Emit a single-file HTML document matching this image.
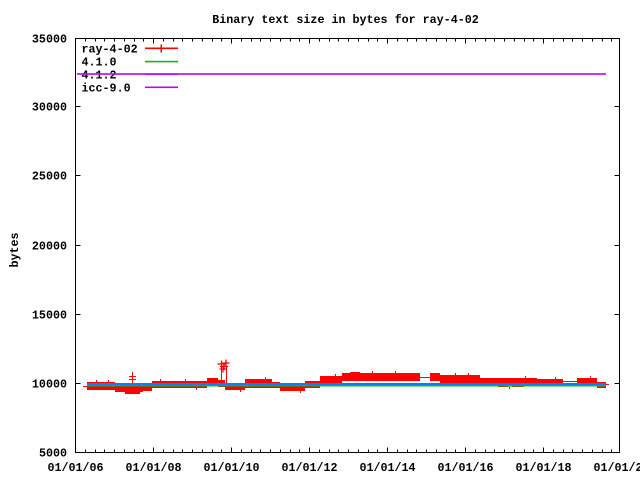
<!DOCTYPE html>
<html>
<head>
<meta charset="utf-8">
<style>
html,body{margin:0;padding:0;background:#fff;}
svg{display:block;}
text{font-family:"Liberation Mono","DejaVu Sans Mono",monospace;font-weight:bold;font-size:11.7px;fill:#000;}
</style>
</head>
<body>
<svg width="640" height="480" viewBox="0 0 640 480" xmlns="http://www.w3.org/2000/svg">
<rect x="0" y="0" width="640" height="480" fill="#fff"/>

<!-- title -->
<text x="345.5" y="23" text-anchor="middle">Binary text size in bytes for ray-4-02</text>

<!-- y label -->
<text transform="translate(18,250) rotate(-90)" text-anchor="middle">bytes</text>

<!-- y tick labels -->
<g text-anchor="end">
<text x="67" y="42.5">35000</text>
<text x="67" y="110.5">30000</text>
<text x="67" y="179.5">25000</text>
<text x="67" y="249.5">20000</text>
<text x="67" y="318.5">15000</text>
<text x="67" y="387.5">10000</text>
<text x="67" y="456.5">5000</text>
</g>

<!-- x tick labels -->
<g text-anchor="middle">
<text x="75.5" y="471">01/01/06</text>
<text x="153.5" y="471">01/01/08</text>
<text x="231.5" y="471">01/01/10</text>
<text x="309.5" y="471">01/01/12</text>
<text x="387.5" y="471">01/01/14</text>
<text x="465.5" y="471">01/01/16</text>
<text x="543.5" y="471">01/01/18</text>
<text x="621.5" y="471">01/01/20</text>
</g>

<!-- axes & ticks -->
<g stroke="#000" stroke-width="1" fill="none" shape-rendering="crispEdges">
<rect x="75.5" y="38.5" width="544" height="414"/>
<path d="M75.5 383.5h5M75.5 314.5h5M75.5 245.5h5M75.5 175.5h5M75.5 106.5h5
M619.5 383.5h-5M619.5 314.5h-5M619.5 245.5h-5M619.5 175.5h-5M619.5 106.5h-5"/>
<path d="M153.5 452.5v-5M231.5 452.5v-5M309.5 452.5v-5M387.5 452.5v-5M465.5 452.5v-5M543.5 452.5v-5
M153.5 38.5v5M231.5 38.5v5M309.5 38.5v5M387.5 38.5v5M465.5 38.5v5M543.5 38.5v5"/>
<path d="M85.5 452.5v-3M95.5 452.5v-3M104.5 452.5v-3M114.5 452.5v-3M124.5 452.5v-3M134.5 452.5v-3M143.5 452.5v-3
M163.5 452.5v-3M173.5 452.5v-3M182.5 452.5v-3M192.5 452.5v-3M202.5 452.5v-3M212.5 452.5v-3M221.5 452.5v-3
M241.5 452.5v-3M251.5 452.5v-3M260.5 452.5v-3M270.5 452.5v-3M280.5 452.5v-3M290.5 452.5v-3M299.5 452.5v-3
M319.5 452.5v-3M329.5 452.5v-3M338.5 452.5v-3M348.5 452.5v-3M358.5 452.5v-3M368.5 452.5v-3M377.5 452.5v-3
M397.5 452.5v-3M407.5 452.5v-3M416.5 452.5v-3M426.5 452.5v-3M436.5 452.5v-3M446.5 452.5v-3M455.5 452.5v-3
M475.5 452.5v-3M485.5 452.5v-3M494.5 452.5v-3M504.5 452.5v-3M514.5 452.5v-3M524.5 452.5v-3M533.5 452.5v-3
M553.5 452.5v-3M563.5 452.5v-3M572.5 452.5v-3M582.5 452.5v-3M592.5 452.5v-3M602.5 452.5v-3M611.5 452.5v-3"/>
<path d="M85.5 38.5v3M95.5 38.5v3M104.5 38.5v3M114.5 38.5v3M124.5 38.5v3M134.5 38.5v3M143.5 38.5v3
M163.5 38.5v3M173.5 38.5v3M182.5 38.5v3M192.5 38.5v3M202.5 38.5v3M212.5 38.5v3M221.5 38.5v3
M241.5 38.5v3M251.5 38.5v3M260.5 38.5v3M270.5 38.5v3M280.5 38.5v3M290.5 38.5v3M299.5 38.5v3
M319.5 38.5v3M329.5 38.5v3M338.5 38.5v3M348.5 38.5v3M358.5 38.5v3M368.5 38.5v3M377.5 38.5v3
M397.5 38.5v3M407.5 38.5v3M416.5 38.5v3M426.5 38.5v3M436.5 38.5v3M446.5 38.5v3M455.5 38.5v3
M475.5 38.5v3M485.5 38.5v3M494.5 38.5v3M504.5 38.5v3M514.5 38.5v3M524.5 38.5v3M533.5 38.5v3
M553.5 38.5v3M563.5 38.5v3M572.5 38.5v3M582.5 38.5v3M592.5 38.5v3M602.5 38.5v3M611.5 38.5v3"/>
</g>

<!-- legend text -->
<text x="81.5" y="52.5">ray-4-02</text>
<text x="81.5" y="65.5">4.1.0</text>
<text x="81.5" y="78.5">4.1.2</text>
<text x="81.5" y="91.5">icc-9.0</text>

<!-- legend samples -->
<rect x="145" y="47.5" width="33" height="1.6" fill="#ff0000"/>
<rect x="160.5" y="44.5" width="1.5" height="8" fill="#ff0000"/>
<rect x="145" y="60.8" width="33" height="1.6" fill="#00c000"/>
<rect x="145" y="73.5" width="33" height="1.6" fill="#0080ff"/>
<rect x="145" y="86.5" width="33" height="1.6" fill="#c000ff"/>

<!-- ray-4-02 red data -->
<g fill="#ff0000" shape-rendering="crispEdges">
<rect x="83" y="386" width="5" height="1"/>
<rect x="87" y="382" width="28" height="8"/>
<rect x="115" y="384" width="28" height="8"/>
<rect x="125" y="391" width="15" height="3"/>
<rect x="140" y="383" width="12" height="8"/>
<rect x="152" y="381" width="55" height="7"/>
<rect x="207" y="378" width="11" height="8"/>
<rect x="218" y="380" width="7" height="7"/>
<rect x="225" y="383" width="20" height="7"/>
<rect x="245" y="379" width="27" height="9"/>
<rect x="272" y="382" width="8" height="6"/>
<rect x="280" y="385" width="25" height="6"/>
<rect x="305" y="381" width="15" height="7"/>
<rect x="320" y="376" width="22" height="7"/>
<rect x="342" y="373" width="78" height="8"/>
<rect x="350" y="372" width="10" height="2"/>
<rect x="420" y="377" width="10" height="1"/>
<rect x="430" y="373" width="10" height="8"/>
<rect x="440" y="375" width="40" height="8"/>
<rect x="480" y="378" width="57" height="6"/>
<rect x="498" y="384" width="10" height="3"/>
<rect x="512" y="384" width="12" height="3"/>
<rect x="528" y="384" width="7" height="2"/>
<rect x="537" y="379" width="26" height="6"/>
<rect x="563" y="381" width="14" height="1"/>
<rect x="577" y="378" width="20" height="6"/>
<rect x="597" y="382" width="9" height="6"/>
<rect x="606" y="384" width="3" height="1"/>
<!-- jagged marker tips -->
<rect x="96" y="380" width="1" height="2"/>
<rect x="108" y="380" width="1" height="2"/>
<rect x="160" y="379" width="1" height="2"/>
<rect x="185" y="379" width="1" height="2"/>
<rect x="196" y="388" width="1" height="2"/>
<rect x="240" y="390" width="1" height="2"/>
<rect x="265" y="377" width="1" height="2"/>
<rect x="300" y="391" width="1" height="2"/>
<rect x="335" y="374" width="1" height="2"/>
<rect x="372" y="371" width="1" height="2"/>
<rect x="395" y="371" width="1" height="2"/>
<rect x="455" y="373" width="1" height="2"/>
<rect x="468" y="373" width="1" height="2"/>
<rect x="509" y="386" width="1" height="3"/>
<rect x="525" y="376" width="1" height="2"/>
<rect x="555" y="377" width="1" height="2"/>
<rect x="590" y="376" width="1" height="2"/>
<!-- spikes -->
<rect x="132" y="372" width="1" height="14"/>
<rect x="129" y="376" width="7" height="1"/>
<rect x="129" y="379" width="7" height="1"/>
<rect x="221" y="366" width="1" height="17"/>
<rect x="226" y="366" width="1" height="17"/>
</g>
<g stroke="#ff0000" stroke-width="1.3" fill="none">
<path d="M217.5 364h8M221.5 360.5v7M220 366.5h8M224 363v7M222.5 363h7M226 359.5v7M219.5 369h7M223 365.5v7"/>
</g>

<!-- 4.1.0 green -->
<rect x="87" y="385" width="519" height="1.5" fill="#00c000"/>
<!-- 4.1.2 blue -->
<rect x="87" y="383" width="519" height="2" fill="#0080ff"/>
<!-- icc-9.0 magenta -->
<rect x="77" y="73.2" width="529" height="1.6" fill="#c000ff"/>
</svg>
</body>
</html>
